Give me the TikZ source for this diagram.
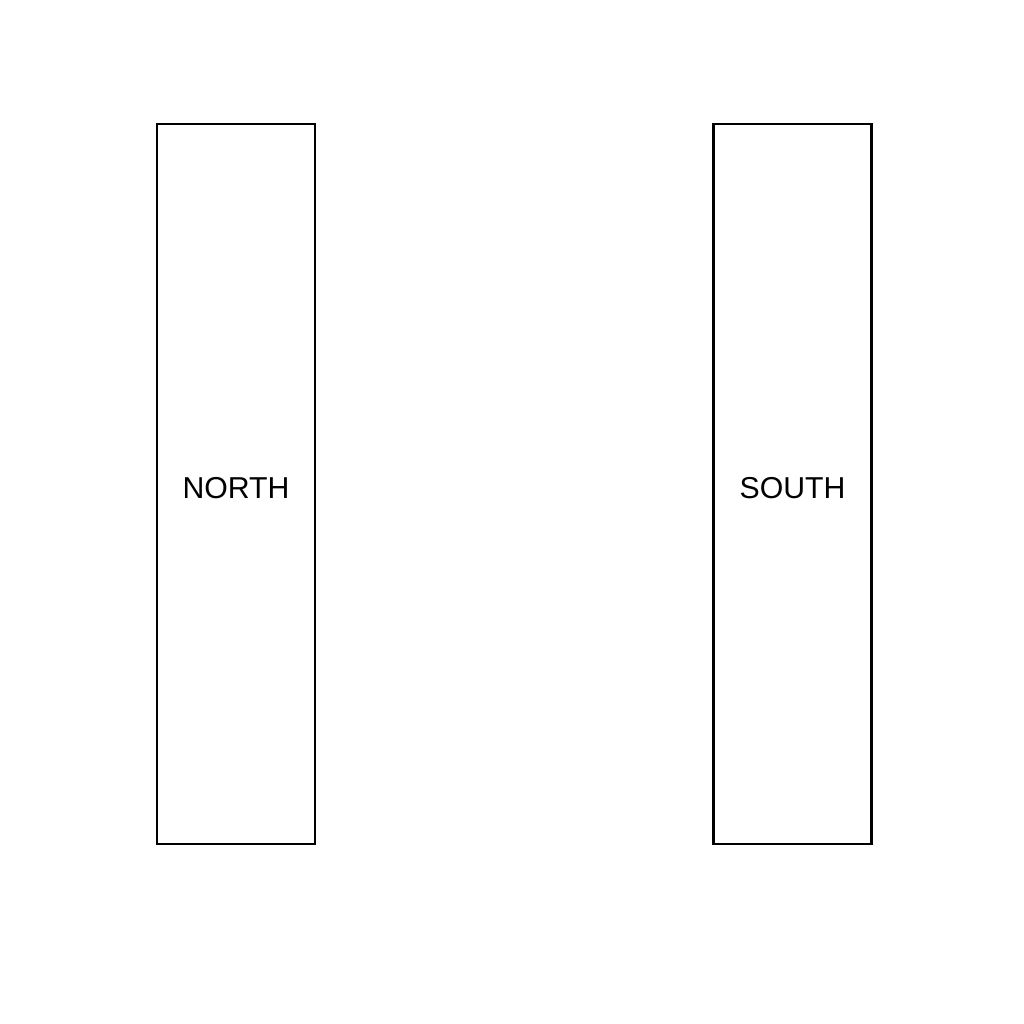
\documentclass[tikz,border=0pt]{standalone}
\usepackage{fontspec}
\setmainfont{Liberation Sans}
\usepackage{tikz}

\begin{document}
\begin{tikzpicture}
    [every node/.style={rectangle, draw, line width=0.6pt, minimum width=1.58cm, minimum height=7.2cm, inner sep=0pt, text height=0.29cm, text depth=0pt, font=\fontsize{8.6}{10}\selectfont}]
    \useasboundingbox (0,0) rectangle (10.24,10.24);
    \node (north) at (2.36,5.40) {NORTH};
    \node (south) at (7.925,5.40) {SOUTH};
  \end{tikzpicture}
\end{document}
